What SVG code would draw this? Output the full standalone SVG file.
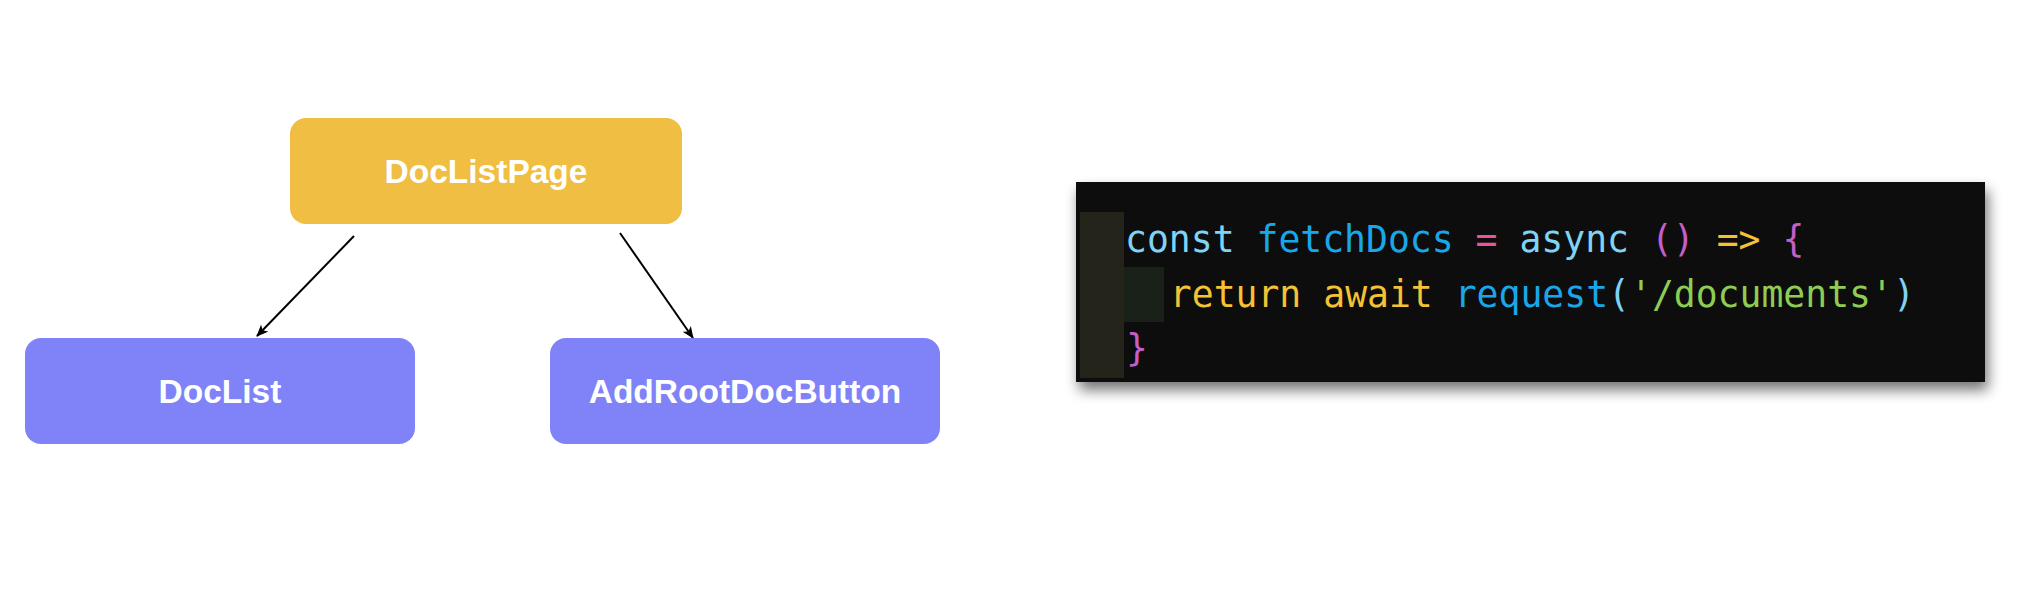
<svg xmlns="http://www.w3.org/2000/svg" width="2020" height="616" viewBox="0 0 2020 616">
<style>
.node-y{fill:#EFBE42}
.node-p{fill:#7F83F7}
.lbl{font-family:"Liberation Sans",Arial,sans-serif;font-weight:bold;font-size:33.5px;fill:#ffffff;text-anchor:middle}
.conn{stroke:#000;stroke-width:2;fill:none;marker-end:url(#ah)}
.code{font-family:"DejaVu Sans Mono",monospace;font-size:36.4px}
.kw{fill:#7FD3F5}
.fn{fill:#1AA7EA}
.op{fill:#E9559B}
.pr{fill:#C45EC9}
.ar{fill:#F3C235}
.st{fill:#8ECD53}
</style>
<defs>
<marker id="ah" viewBox="0 0 12 10" refX="11" refY="5" markerWidth="12" markerHeight="10" markerUnits="userSpaceOnUse" orient="auto">
<path d="M0,0 L12,5 L0,10 L3,5 Z" fill="#000"/>
</marker>
<filter id="sh" x="-5%" y="-20%" width="110%" height="150%">
<feGaussianBlur in="SourceAlpha" stdDeviation="7"/>
<feOffset dx="3" dy="8" result="b"/>
<feComponentTransfer><feFuncA type="linear" slope="0.55"/></feComponentTransfer>
<feMerge><feMergeNode/><feMergeNode in="SourceGraphic"/></feMerge>
</filter>
</defs>
<rect width="2020" height="616" fill="#ffffff"/>
<g id="connectors">
<line class="conn" x1="354" y1="236" x2="257" y2="336"/>
<line class="conn" x1="620" y1="233" x2="693" y2="338"/>
</g>
<g id="DocListPage">
<rect class="node-y" x="290" y="118" width="392" height="106" rx="16"/>
<text class="lbl" x="486" y="183">DocListPage</text>
</g>
<g id="DocList">
<rect class="node-p" x="25" y="338" width="390" height="106" rx="16"/>
<text class="lbl" x="220" y="403">DocList</text>
</g>
<g id="AddRootDocButton">
<rect class="node-p" x="550" y="338" width="390" height="106" rx="16"/>
<text class="lbl" x="745" y="403">AddRootDocButton</text>
</g>
<g id="code">
<rect x="1076" y="182" width="909" height="200" fill="#111111" filter="url(#sh)"/>
<rect x="1080" y="212" width="44" height="166" fill="#25241A"/>
<rect x="1124" y="267" width="40" height="55" fill="#1A2119"/>
<text class="code" x="1125" y="252" xml:space="preserve"><tspan class="kw">const</tspan> <tspan class="fn">fetchDocs</tspan> <tspan class="op">=</tspan> <tspan class="kw">async</tspan> <tspan class="pr">()</tspan> <tspan class="ar">=&gt;</tspan> <tspan class="pr">{</tspan></text>
<text class="code" x="1126" y="307" xml:space="preserve">  <tspan class="ar">return</tspan> <tspan class="ar">await</tspan> <tspan class="fn">request</tspan><tspan class="kw">(</tspan><tspan class="st">'/documents'</tspan><tspan class="kw">)</tspan></text>
<text class="code pr" x="1126" y="361">}</text>
</g>
</svg>
